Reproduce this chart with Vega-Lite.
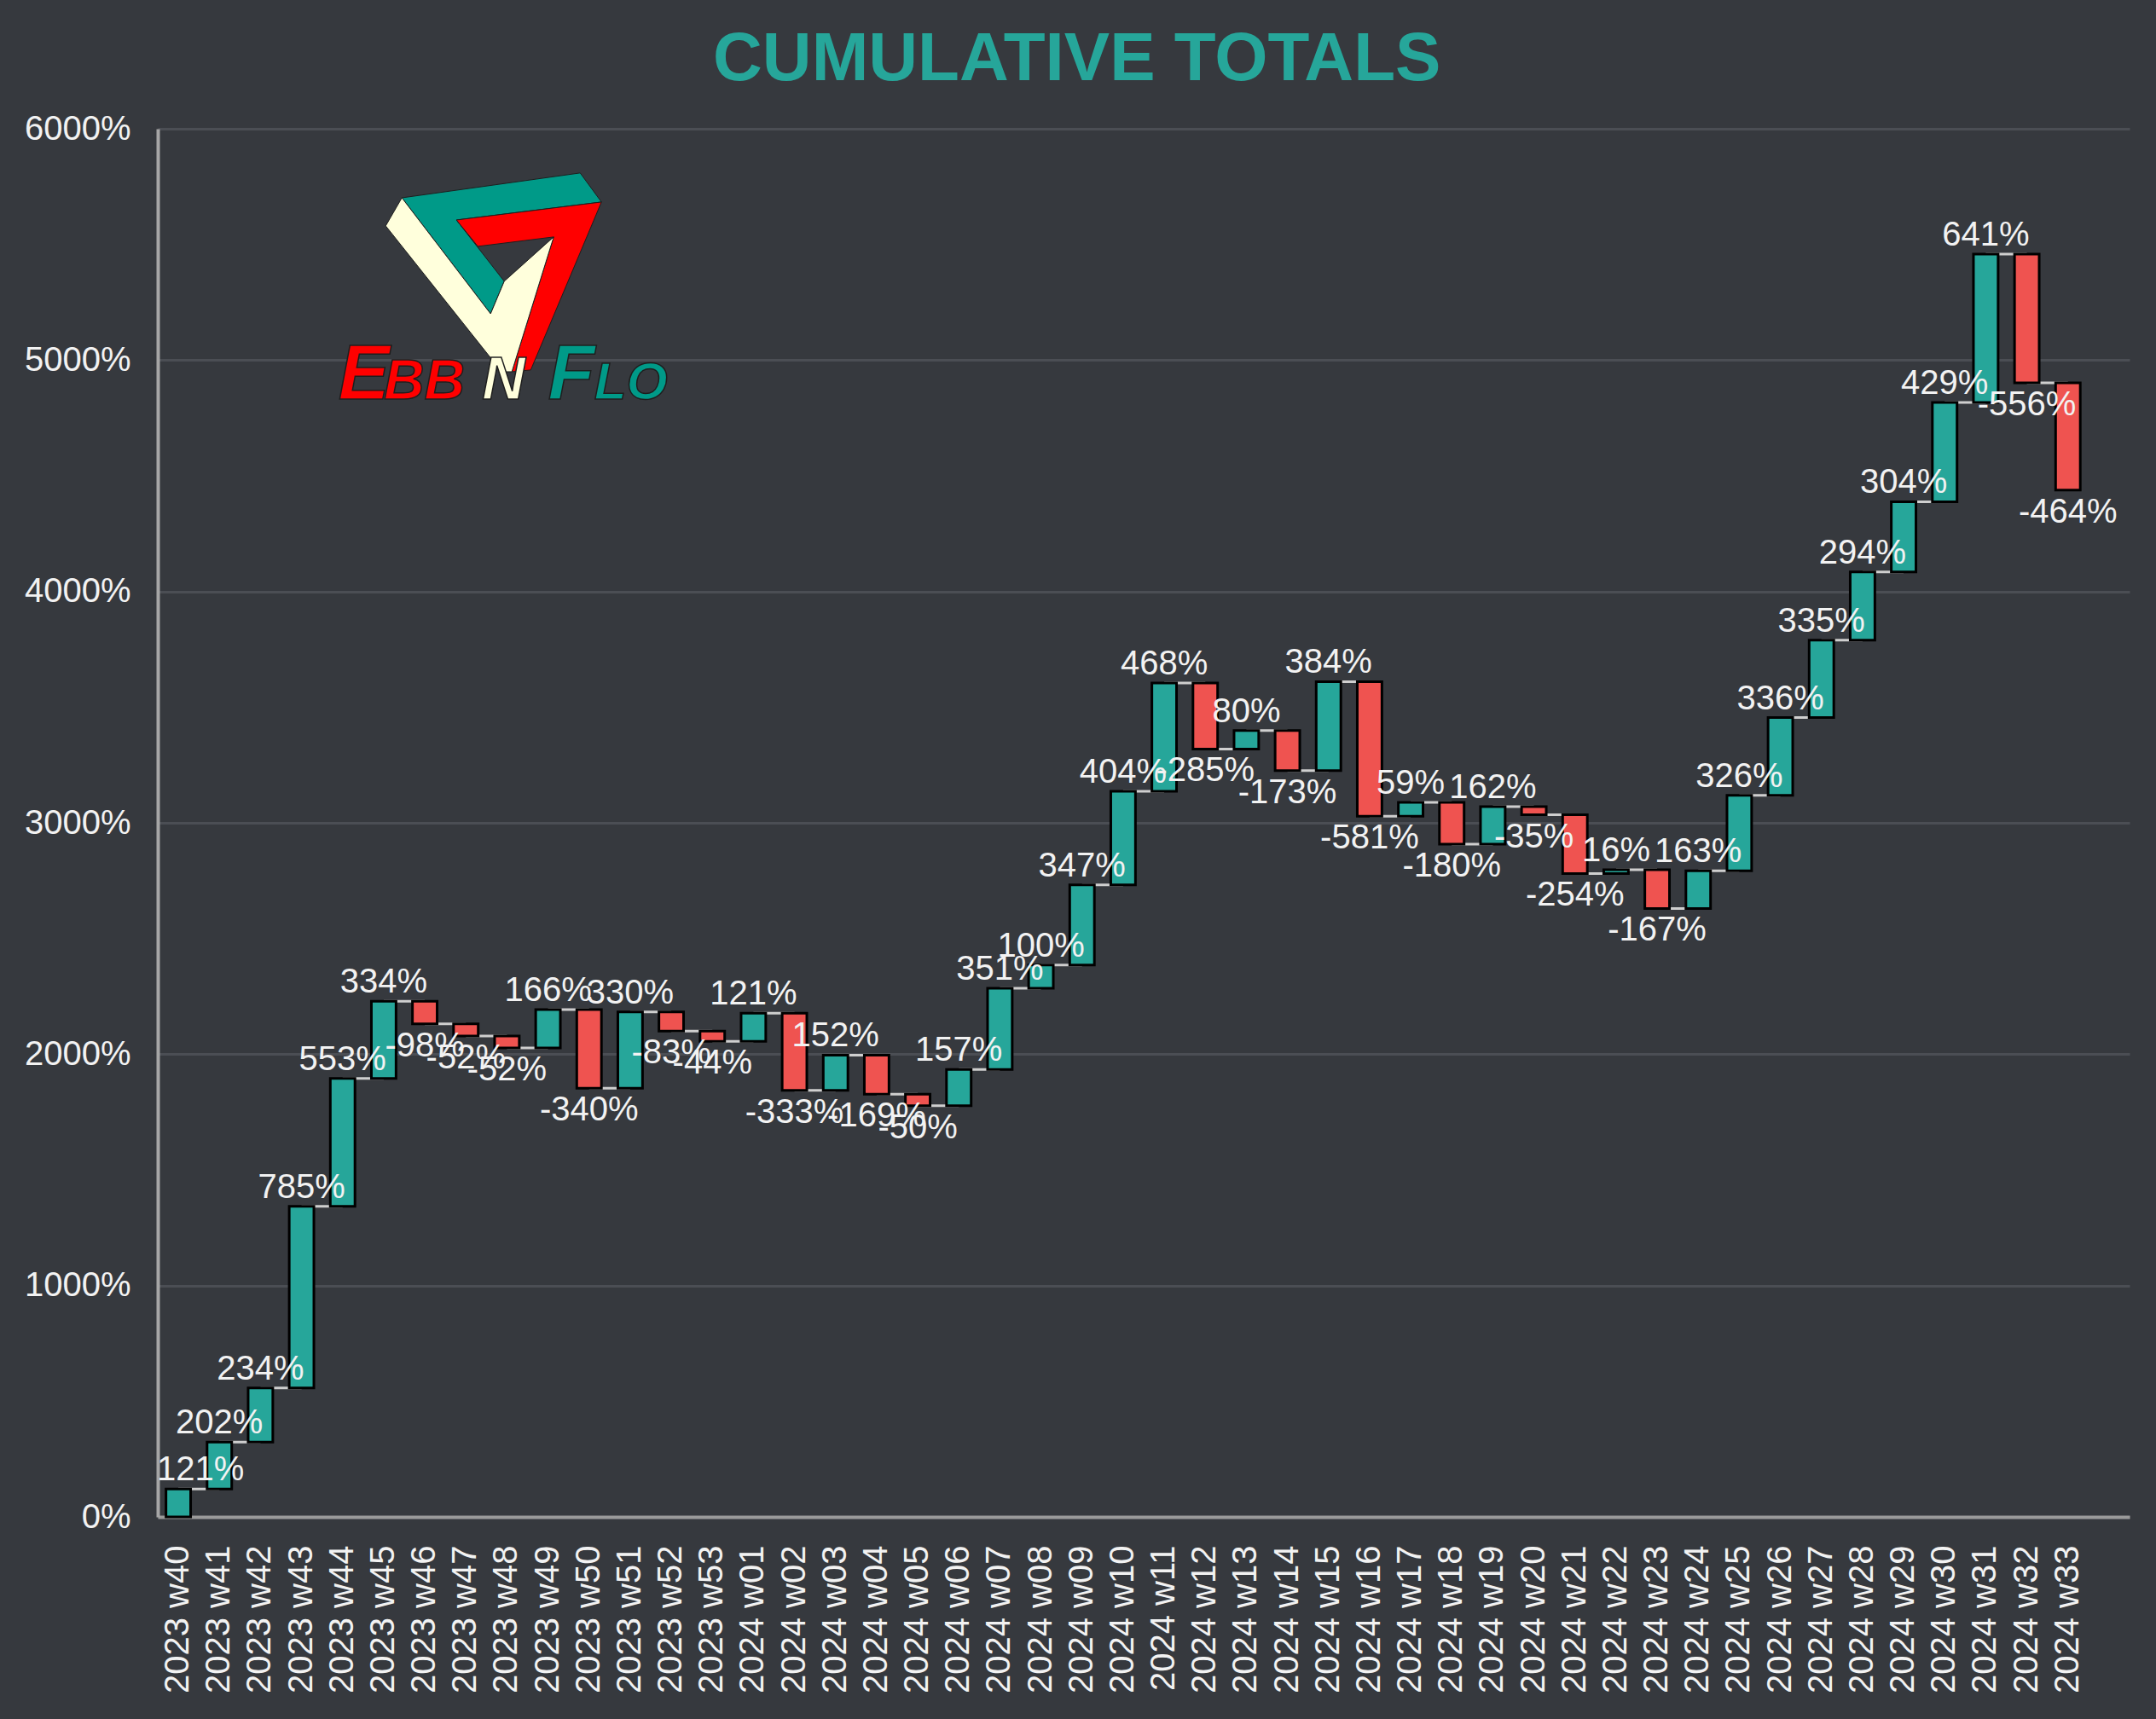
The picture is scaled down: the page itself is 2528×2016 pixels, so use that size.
{
  "$schema": "https://vega.github.io/schema/vega-lite/v6.json",
  "autosize": {"type": "none"},
  "padding": {"left": 185, "top": 151, "right": 31, "bottom": 237},
  "width": 2312,
  "height": 1628,
  "background": "#36393e",
  "config": {
    "view": {"stroke": null},
    "font": "Liberation Sans",
    "text": {"font": "Liberation Sans"}
  },
  "title": {
    "text": "CUMULATIVE TOTALS",
    "fontSize": 80,
    "fontWeight": "bold",
    "font": "Liberation Sans",
    "color": "#26a69a",
    "anchor": "middle",
    "frame": "bounds",
    "offset": 20
  },
  "data": {
    "values": [
      {"week": "2023 w40", "change": 121, "start": 0, "end": 121, "next": "2023 w41"},
      {"week": "2023 w41", "change": 202, "start": 121, "end": 323, "next": "2023 w42"},
      {"week": "2023 w42", "change": 234, "start": 323, "end": 557, "next": "2023 w43"},
      {"week": "2023 w43", "change": 785, "start": 557, "end": 1342, "next": "2023 w44"},
      {"week": "2023 w44", "change": 553, "start": 1342, "end": 1895, "next": "2023 w45"},
      {"week": "2023 w45", "change": 334, "start": 1895, "end": 2229, "next": "2023 w46"},
      {"week": "2023 w46", "change": -98, "start": 2229, "end": 2131, "next": "2023 w47"},
      {"week": "2023 w47", "change": -52, "start": 2131, "end": 2079, "next": "2023 w48"},
      {"week": "2023 w48", "change": -52, "start": 2079, "end": 2027, "next": "2023 w49"},
      {"week": "2023 w49", "change": 166, "start": 2027, "end": 2193, "next": "2023 w50"},
      {"week": "2023 w50", "change": -340, "start": 2193, "end": 1853, "next": "2023 w51"},
      {"week": "2023 w51", "change": 330, "start": 1853, "end": 2183, "next": "2023 w52"},
      {"week": "2023 w52", "change": -83, "start": 2183, "end": 2100, "next": "2023 w53"},
      {"week": "2023 w53", "change": -44, "start": 2100, "end": 2056, "next": "2024 w01"},
      {"week": "2024 w01", "change": 121, "start": 2056, "end": 2177, "next": "2024 w02"},
      {"week": "2024 w02", "change": -333, "start": 2177, "end": 1844, "next": "2024 w03"},
      {"week": "2024 w03", "change": 152, "start": 1844, "end": 1996, "next": "2024 w04"},
      {"week": "2024 w04", "change": -169, "start": 1996, "end": 1827, "next": "2024 w05"},
      {"week": "2024 w05", "change": -50, "start": 1827, "end": 1777, "next": "2024 w06"},
      {"week": "2024 w06", "change": 157, "start": 1777, "end": 1934, "next": "2024 w07"},
      {"week": "2024 w07", "change": 351, "start": 1934, "end": 2285, "next": "2024 w08"},
      {"week": "2024 w08", "change": 100, "start": 2285, "end": 2385, "next": "2024 w09"},
      {"week": "2024 w09", "change": 347, "start": 2385, "end": 2732, "next": "2024 w10"},
      {"week": "2024 w10", "change": 404, "start": 2732, "end": 3136, "next": "2024 w11"},
      {"week": "2024 w11", "change": 468, "start": 3136, "end": 3604, "next": "2024 w12"},
      {"week": "2024 w12", "change": -285, "start": 3604, "end": 3319, "next": "2024 w13"},
      {"week": "2024 w13", "change": 80, "start": 3319, "end": 3399, "next": "2024 w14"},
      {"week": "2024 w14", "change": -173, "start": 3399, "end": 3226, "next": "2024 w15"},
      {"week": "2024 w15", "change": 384, "start": 3226, "end": 3610, "next": "2024 w16"},
      {"week": "2024 w16", "change": -581, "start": 3610, "end": 3029, "next": "2024 w17"},
      {"week": "2024 w17", "change": 59, "start": 3029, "end": 3088, "next": "2024 w18"},
      {"week": "2024 w18", "change": -180, "start": 3088, "end": 2908, "next": "2024 w19"},
      {"week": "2024 w19", "change": 162, "start": 2908, "end": 3070, "next": "2024 w20"},
      {"week": "2024 w20", "change": -35, "start": 3070, "end": 3035, "next": "2024 w21"},
      {"week": "2024 w21", "change": -254, "start": 3035, "end": 2781, "next": "2024 w22"},
      {"week": "2024 w22", "change": 16, "start": 2781, "end": 2797, "next": "2024 w23"},
      {"week": "2024 w23", "change": -167, "start": 2797, "end": 2630, "next": "2024 w24"},
      {"week": "2024 w24", "change": 163, "start": 2630, "end": 2793, "next": "2024 w25"},
      {"week": "2024 w25", "change": 326, "start": 2793, "end": 3119, "next": "2024 w26"},
      {"week": "2024 w26", "change": 336, "start": 3119, "end": 3455, "next": "2024 w27"},
      {"week": "2024 w27", "change": 335, "start": 3455, "end": 3790, "next": "2024 w28"},
      {"week": "2024 w28", "change": 294, "start": 3790, "end": 4084, "next": "2024 w29"},
      {"week": "2024 w29", "change": 304, "start": 4084, "end": 4388, "next": "2024 w30"},
      {"week": "2024 w30", "change": 429, "start": 4388, "end": 4817, "next": "2024 w31"},
      {"week": "2024 w31", "change": 641, "start": 4817, "end": 5458, "next": "2024 w32"},
      {"week": "2024 w32", "change": -556, "start": 5458, "end": 4902, "next": "2024 w33"},
      {"week": "2024 w33", "change": -464, "start": 4902, "end": 4438, "next": null}
    ]
  },
  "encoding": {
    "x": {
      "field": "week",
      "type": "ordinal",
      "sort": null,
      "scale": {
        "domain": ["2023 w40","2023 w41","2023 w42","2023 w43","2023 w44","2023 w45","2023 w46","2023 w47","2023 w48","2023 w49","2023 w50","2023 w51","2023 w52","2023 w53","2024 w01","2024 w02","2024 w03","2024 w04","2024 w05","2024 w06","2024 w07","2024 w08","2024 w09","2024 w10","2024 w11","2024 w12","2024 w13","2024 w14","2024 w15","2024 w16","2024 w17","2024 w18","2024 w19","2024 w20","2024 w21","2024 w22","2024 w23","2024 w24","2024 w25","2024 w26","2024 w27","2024 w28","2024 w29","2024 w30","2024 w31","2024 w32","2024 w33"," "],
        "paddingInner": 0.4,
        "paddingOuter": 0.2
      },
      "axis": {
        "title": null,
        "labelAngle": -90,
        "labelAlign": "right",
        "labelBaseline": "middle",
        "labelFontSize": 40,
        "labelColor": "#f2f2f2",
        "labelFont": "Liberation Sans",
        "labelPadding": 33,
        "ticks": false,
        "tickSize": 0,
        "domainColor": "#9a9a9a",
        "domainWidth": 4,
        "grid": false,
        "labelOverlap": false
      }
    },
    "y": {
      "field": "end",
      "type": "quantitative",
      "scale": {"domain": [0, 6000], "nice": false, "zero": true},
      "axis": {
        "title": null,
        "values": [0, 1000, 2000, 3000, 4000, 5000, 6000],
        "labelExpr": "datum.value + '%'",
        "labelFontSize": 40,
        "labelColor": "#f2f2f2",
        "labelFont": "Liberation Sans",
        "labelPadding": 32,
        "labelBaseline": "middle",
        "ticks": false,
        "tickSize": 0,
        "domainColor": "#a6a6a6",
        "domainWidth": 4,
        "grid": true,
        "gridColor": "#4b4e54",
        "gridWidth": 3
      }
    }
  },
  "layer": [
    {
      "transform": [{"filter": "datum.next != null"}],
      "mark": {"type": "rule", "color": "#cfcfcf", "strokeWidth": 3},
      "encoding": {
        "x2": {"field": "next"}
      }
    },
    {
      "mark": {"type": "bar", "stroke": "#000000", "strokeWidth": 3},
      "encoding": {
        "y": {"field": "start", "type": "quantitative"},
        "y2": {"field": "end"},
        "color": {
          "condition": {"test": "datum.change > 0", "value": "#26a69a"},
          "value": "#ef5350"
        }
      }
    },
    {
      "transform": [
        {"filter": "datum.change > 0 && datum.week != '2023 w40'"},
        {"calculate": "datum.change + '%'", "as": "label"}
      ],
      "mark": {"type": "text", "fontSize": 40, "color": "#f2f2f2", "baseline": "alphabetic", "align": "center", "dy": -10},
      "encoding": {"text": {"field": "label"}}
    },
    {
      "transform": [
        {"filter": "datum.week == '2023 w40'"},
        {"calculate": "datum.change + '%'", "as": "label"}
      ],
      "mark": {"type": "text", "fontSize": 40, "color": "#f2f2f2", "baseline": "alphabetic", "align": "left", "dx": -25, "dy": -10},
      "encoding": {"text": {"field": "label"}}
    },
    {
      "transform": [
        {"filter": "datum.change < 0"},
        {"calculate": "datum.change + '%'", "as": "label"}
      ],
      "mark": {"type": "text", "fontSize": 40, "color": "#f2f2f2", "baseline": "alphabetic", "align": "center", "dy": 38},
      "encoding": {"text": {"field": "label"}}
    },
    {
      "transform": [{"filter": "datum.week == '2023 w47'"}],
      "mark": {"type": "point", "shape": "M-0.577,-0.838L1.031,-1.062L1.223,-0.8L-0.085,-0.638L0.346,-0.085L0.223,0.208Z", "size": 67600, "filled": true, "fill": "#009a88", "stroke": "#1e1e1e", "strokeWidth": 1, "opacity": 1},
      "encoding": {"y": {"datum": 5300, "type": "quantitative"}}
    },
    {
      "transform": [{"filter": "datum.week == '2023 w47'"}],
      "mark": {"type": "point", "shape": "M-0.085,-0.638L1.223,-0.8L0.585,0.715L0.415,0.731L0.792,-0.485L0.108,-0.4Z", "size": 67600, "filled": true, "fill": "#ff0000", "stroke": "#1e1e1e", "strokeWidth": 1, "opacity": 1},
      "encoding": {"y": {"datum": 5300, "type": "quantitative"}}
    },
    {
      "transform": [{"filter": "datum.week == '2023 w47'"}],
      "mark": {"type": "point", "shape": "M-0.723,-0.585L-0.577,-0.838L0.223,0.208L0.346,-0.085L0.792,-0.485L0.415,0.731L0.323,0.731Z", "size": 67600, "filled": true, "fill": "#ffffdc", "stroke": "#1e1e1e", "strokeWidth": 1, "opacity": 1},
      "encoding": {"y": {"datum": 5300, "type": "quantitative"}}
    },
    {
      "transform": [{"filter": "datum.week == '2023 w44'"}],
      "mark": {"type": "text", "text": "E", "fontSize": 90, "fontWeight": "bold", "fontStyle": "italic", "color": "#ff0000", "stroke": "#1e1e1e", "strokeWidth": 1.5, "align": "left", "baseline": "alphabetic", "dx": -5},
      "encoding": {"y": {"datum": 4830, "type": "quantitative"}}
    },
    {
      "transform": [{"filter": "datum.week == '2023 w45'"}],
      "mark": {"type": "text", "text": "BB", "fontSize": 66, "fontWeight": "bold", "fontStyle": "italic", "color": "#ff0000", "stroke": "#1e1e1e", "strokeWidth": 1.5, "align": "left", "baseline": "alphabetic", "dx": 0},
      "encoding": {"y": {"datum": 4830, "type": "quantitative"}}
    },
    {
      "transform": [{"filter": "datum.week == '2023 w47'"}],
      "mark": {"type": "text", "text": "N", "fontSize": 70, "fontWeight": "bold", "fontStyle": "italic", "color": "#ffffdc", "stroke": "#1e1e1e", "strokeWidth": 1.5, "align": "left", "baseline": "alphabetic", "dx": 19},
      "encoding": {"y": {"datum": 4830, "type": "quantitative"}}
    },
    {
      "transform": [{"filter": "datum.week == '2023 w49'"}],
      "mark": {"type": "text", "text": "F", "fontSize": 90, "fontWeight": "bold", "fontStyle": "italic", "color": "#009a88", "stroke": "#1e1e1e", "strokeWidth": 1.5, "align": "left", "baseline": "alphabetic", "dx": 0},
      "encoding": {"y": {"datum": 4830, "type": "quantitative"}}
    },
    {
      "transform": [{"filter": "datum.week == '2023 w50'"}],
      "mark": {"type": "text", "text": "LO", "fontSize": 62, "fontWeight": "bold", "fontStyle": "italic", "color": "#009a88", "stroke": "#1e1e1e", "strokeWidth": 1.5, "align": "left", "baseline": "alphabetic", "dx": 6},
      "encoding": {"y": {"datum": 4830, "type": "quantitative"}}
    }
  ]
}
